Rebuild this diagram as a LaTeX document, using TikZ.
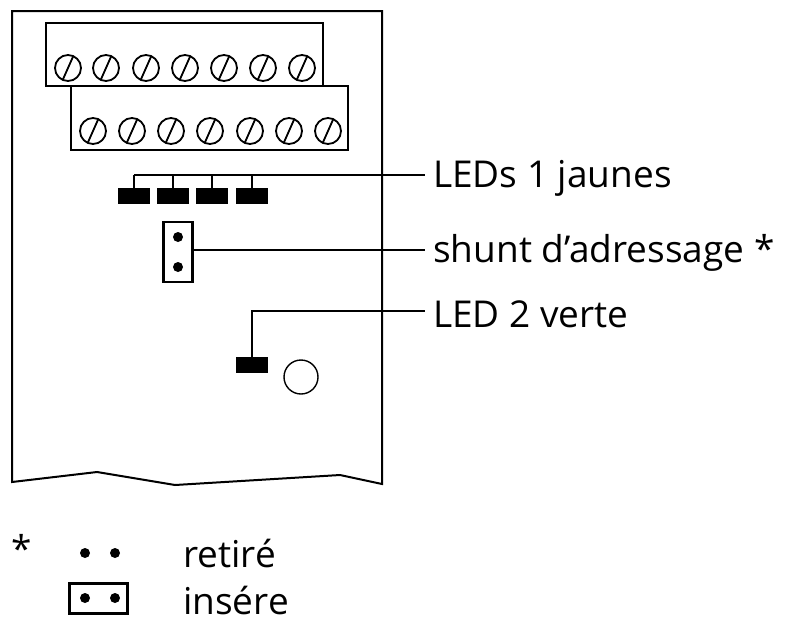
\documentclass[tikz,border=0pt]{standalone}
\usepackage{fontspec}
\setmainfont{Open Sans}
\begin{document}
\begin{tikzpicture}[x=1pt,y=-1pt,
  ln/.style={line width=2pt},
  thin/.style={line width=1.4pt},
  screw/.style={circle,draw,line width=1.8pt,minimum size=26pt,inner sep=0pt,
    path picture={\draw[line width=1.8pt] (path picture bounding box.south west)++(5pt,-5pt) -- ([xshift=-5pt,yshift=5pt]path picture bounding box.north east);}},
  led/.style={fill=black,minimum width=32pt,minimum height=16pt,inner sep=0pt},
  lbl/.style={anchor=west,font=\fontsize{37}{40}\selectfont,inner sep=0pt},
  dot/.style={circle,fill=black,minimum size=10pt,inner sep=0pt}]
\useasboundingbox (0,0) rectangle (801,625);
\draw[ln] (12,482) -- (12,11) -- (382,11) -- (382,484) -- (340,475) -- (175,485) -- (97,472) -- cycle;
\draw[ln] (46,23) rectangle (323,86);
\draw[ln] (71,86) rectangle (348,150);
\foreach \x [count=\i] in {68,106,146,185,224,263,302} \node[screw] (a\i) at (\x,68) {};
\foreach \x [count=\i] in {93,132,171,210,250,289,328} \node[screw] (b\i) at (\x,131) {};
\foreach \x [count=\i] in {134,173,212,252} \node[led] (l\i) at (\x,196) {};
\node[lbl] (t1) at (433,178) {LEDs 1 jaunes};
\node[lbl] (t2) at (433,253) {shunt d’adressage *};
\node[lbl] (t3) at (433,314) {LED 2 verte};
\coordinate (c1) at (134,175);
\draw[thin] (c1) -- (425,175);
\foreach \i in {1,...,4} \draw[thin] (l\i.north) -- (l\i.north |- c1);
\node[draw,line width=2.5pt,minimum width=29pt,minimum height=60pt,inner sep=0pt] (j) at (178,252) {};
\node[dot] at (178,237) {}; \node[dot] at (178,267) {};
\draw[thin] (j.east |- 0,250) -- (425,250);
\node[led] (l5) at (252,365) {};
\draw[thin] (l5.north) |- (425,311);
\node[circle,draw,thin,minimum size=34pt,inner sep=0pt] (c) at (301,377) {};
\node[lbl,anchor=center] (st) at (22,548) {*};
\node[dot] at (85,553) {}; \node[dot] at (115,553) {};
\node[lbl] (r) at (183,553) {retiré};
\node[draw,line width=3pt,minimum width=58pt,minimum height=30pt,inner sep=0pt] (jb) at (98,598) {};
\node[dot] at (85,598) {}; \node[dot] at (115,598) {};
\node[lbl] (ins) at (183,600) {insére};
\end{tikzpicture}
\end{document}
